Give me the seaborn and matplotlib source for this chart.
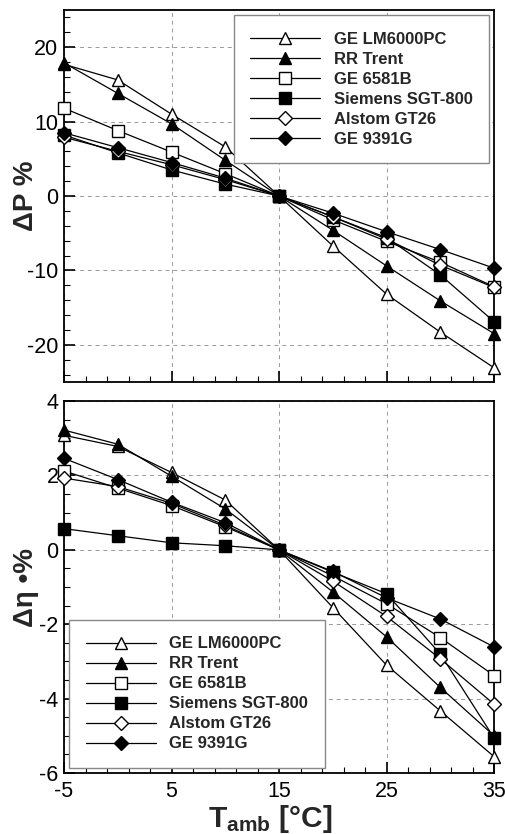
"""Ambient temperature effect on power and efficiency for six gas turbines."""
import matplotlib
matplotlib.use('Agg')
import matplotlib.pyplot as plt
import matplotlib.ticker as mticker
import seaborn as sns

# ---- data ----
T_AMB = [-5, 0, 5, 10, 15, 20, 25, 30, 35]
ENGINES = ['GE LM6000PC', 'RR Trent', 'GE 6581B', 'Siemens SGT-800', 'Alstom GT26', 'GE 9391G']

dP_lm6000 = [17.7, 15.6, 11.0, 6.6, 0.0, -6.7, -13.2, -18.3, -23.1]
dP_trent = [17.9, 13.8, 9.7, 4.8, 0.0, -4.6, -9.4, -14.1, -18.5]
dP_6581b = [11.8, 8.8, 5.9, 3.0, 0.0, -3.2, -6.1, -8.9, -12.2]
dP_sgt800 = [8.2, 5.8, 3.5, 1.6, 0.0, -2.8, -5.6, -10.6, -16.9]
dP_gt26 = [7.9, 6.0, 4.2, 2.2, 0.0, -2.8, -5.8, -9.3, -12.3]
dP_9391g = [8.5, 6.5, 4.5, 2.4, 0.0, -2.3, -4.8, -7.2, -9.7]

deta_lm6000 = [3.08, 2.78, 2.08, 1.34, 0.0, -1.55, -3.1, -4.33, -5.56]
deta_trent = [3.22, 2.84, 1.98, 1.1, 0.0, -1.13, -2.34, -3.7, -5.0]
deta_6581b = [2.12, 1.66, 1.19, 0.62, 0.0, -0.7, -1.45, -2.36, -3.38]
deta_sgt800 = [0.57, 0.38, 0.19, 0.11, 0.0, -0.6, -1.18, -2.8, -5.06]
deta_gt26 = [1.93, 1.7, 1.25, 0.66, 0.0, -0.84, -1.79, -2.93, -4.15]
deta_9391g = [2.46, 1.89, 1.28, 0.73, 0.0, -0.58, -1.29, -1.86, -2.61]

DP = [dP_lm6000, dP_trent, dP_6581b, dP_sgt800, dP_gt26, dP_9391g]
DETA = [deta_lm6000, deta_trent, deta_6581b, deta_sgt800, deta_gt26, deta_9391g]

# marker, face colour per engine
STYLES = [('^', 'white'), ('^', 'black'), ('s', 'white'),
          ('s', 'black'), ('D', 'white'), ('D', 'black')]

sns.set_theme(style='white')
plt.rcParams['font.family'] = ['Liberation Sans', 'DejaVu Sans']
plt.rcParams['axes.unicode_minus'] = False
plt.rcParams['mathtext.fontset'] = 'custom'
plt.rcParams['mathtext.bf'] = 'Liberation Sans:bold'
plt.rcParams['mathtext.rm'] = 'Liberation Sans'


def draw_panel(ax, series):
    for name, vals, (mk, fc) in zip(ENGINES, series, STYLES):
        ms = 7.5 if mk == 'D' else 8.5
        sns.lineplot(x=T_AMB, y=vals, ax=ax, color='black', lw=0.9,
                     marker=mk, markersize=ms, markerfacecolor=fc,
                     markeredgecolor='black', markeredgewidth=1.0,
                     label=name, zorder=3, clip_on=False)
    ax.set_xlim(-5, 35)
    ax.xaxis.set_major_locator(mticker.MultipleLocator(10, offset=5))
    ax.xaxis.set_minor_locator(mticker.MultipleLocator(2, offset=1))
    ax.grid(True, which='major', color='#999999', linestyle=(0, (4, 4)), lw=0.7)
    for s in ax.spines.values():
        s.set_color('black')
        s.set_linewidth(1.3)
    ax.tick_params(which='both', direction='in', left=True, bottom=True,
                   top=False, right=False, colors='black', labelsize=15.5)
    ax.tick_params(which='major', length=8, width=1.2, pad=4)
    ax.tick_params(which='minor', length=4, width=0.8)
    ax.tick_params(axis='x', which='major', pad=5.5)
    ax.set_xlabel('')


fig = plt.figure(figsize=(5.06, 8.34), dpi=100)
ax1 = fig.add_axes([0.1265, 0.542, 0.850, 0.446])
ax2 = fig.add_axes([0.1265, 0.0731, 0.850, 0.446])

draw_panel(ax1, DP)
ax1.set_ylim(-25, 25)
ax1.yaxis.set_major_locator(mticker.MultipleLocator(10))
ax1.yaxis.set_minor_locator(mticker.MultipleLocator(2))
ax1.tick_params(labelbottom=False)
ax1.set_ylabel('ΔP %', fontsize=20, fontweight='bold')
ax1.yaxis.set_label_coords(-0.058, 0.5)

draw_panel(ax2, DETA)
ax2.set_ylim(-6, 4)
ax2.yaxis.set_major_locator(mticker.MultipleLocator(2))
ax2.yaxis.set_minor_locator(mticker.MultipleLocator(0.5))
ax2.set_ylabel('Δη •%', fontsize=20, fontweight='bold')
ax2.yaxis.set_label_coords(-0.058, 0.5)
ax2.set_xlabel(r'$\mathbf{T_{amb}}$ [°C]', fontsize=21.5, fontweight='bold')
ax2.xaxis.set_label_coords(0.479, -0.08)

legend_kw = dict(frameon=True, fancybox=False, edgecolor='#888888',
                 framealpha=1, handlelength=4.2, labelspacing=0.3,
                 handletextpad=0.8, borderpad=1.0, borderaxespad=0.3,
                 prop={'weight': 'bold', 'size': 12})
ax1.legend(loc='upper right', bbox_to_anchor=(1.0, 1.0), **legend_kw)
ax2.legend(loc='lower left', bbox_to_anchor=(0.0, 0.0), **legend_kw)

fig.savefig('out.png', dpi=100)
